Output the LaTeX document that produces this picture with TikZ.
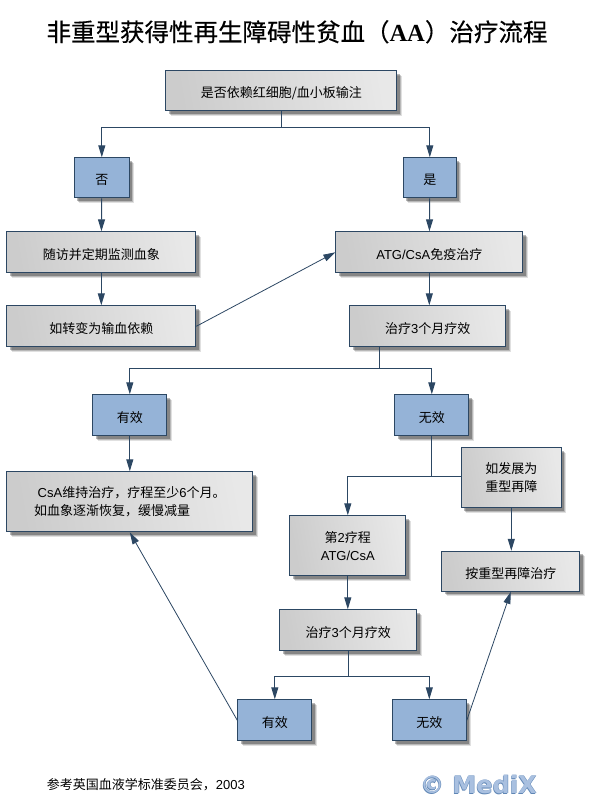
\documentclass[tikz,border=0pt]{standalone}
\usepackage{fontspec}
\setmainfont{Noto Sans CJK SC}
\newfontfamily\latn{Liberation Sans}
\newfontfamily\titlelatn{Liberation Serif}
\newfontfamily\titlecjk[FakeBold=0.4]{Noto Sans CJK SC}
\newfontfamily\logofont{DejaVu Sans}
\usetikzlibrary{arrows.meta,shadows}
\definecolor{linecol}{HTML}{2C4763}
\definecolor{bluefill}{HTML}{95B3D7}
\definecolor{logocol}{HTML}{A9C0E0}
\definecolor{logoedge}{HTML}{5F86B5}
\tikzset{
  softshadow/.style={
    preaction={fill=black,opacity=.12,transform canvas={xshift=5pt,yshift=-5pt}},
    preaction={fill=black,opacity=.18,transform canvas={xshift=4pt,yshift=-4pt}},
    preaction={fill=black,opacity=.28,transform canvas={xshift=3pt,yshift=-3pt}}},
  boxtext/.style={align=center,inner sep=0pt,font=\fontsize{13}{18}\selectfont,
    execute at begin node={\rule{0pt}{15pt}}},
  greybox/.style={draw=linecol,line width=1pt,softshadow,left color=gray!40,right color=gray!18,
    shading angle=100,boxtext},
  bluebox/.style={draw=linecol,line width=1pt,softshadow,fill=bluefill,boxtext},
  flow/.style={draw=linecol,line width=1pt,-{Triangle[length=12pt,width=7pt]}},
  plain/.style={draw=linecol,line width=1pt},
  thinflow/.style={draw=linecol,line width=.8pt,-{Triangle[length=12pt,width=7pt]}},
  logotext/.style={anchor=west,font=\logofont\bfseries\fontsize{24}{26}\selectfont}
}
\begin{document}
\begin{tikzpicture}[x=1pt,y=-1pt]
  \useasboundingbox (0.2,0.2) rectangle (594.2,805.2);
  % title
  \node[font=\fontsize{24.5}{28}\selectfont\titlecjk] (title) at (297.2,32) {非重型获得性再生障碍性贫血（{\titlelatn\bfseries AA}）治疗流程};
  % upper part
  \node[greybox,minimum width=231,minimum height=40] (transf) at (281.5,91) {是否依赖红细胞/血小板输注};
  \node[bluebox,minimum width=55,minimum height=40] (no) at (102,178) {否};
  \node[bluebox,minimum width=53,minimum height=40] (yes) at (430,178) {是};
  \node[greybox,minimum width=189,minimum height=41] (follow) at (101.5,252.5) {随访并定期监测血象};
  \node[greybox,minimum width=187,minimum height=41] (atg) at (429.5,252.5) {{\latn ATG/CsA}免疫治疗};
  \node[greybox,minimum width=189,minimum height=41] (turn) at (101.5,326.5) {如转变为输血依赖};
  \node[greybox,minimum width=156,minimum height=41] (eff) at (428,326.5) {治疗{\latn 3}个月疗效};
  % middle part
  \node[bluebox,minimum width=74,minimum height=41] (good) at (130,415.5) {有效};
  \node[bluebox,minimum width=74,minimum height=41] (bad) at (432,415.5) {无效};
  \node[greybox,minimum width=246,minimum height=60,align=left] (csa) at (130,502) {{\latn\ CsA}维持治疗，疗程至少{\latn 6}个月。\\如血象逐渐恢复，缓慢减量};
  \node[greybox,minimum width=100,minimum height=60] (dev) at (511.5,478) {如发展为\\重型再障};
  \node[greybox,minimum width=116,minimum height=60] (second) at (348,546) {第{\latn 2}疗程\\{\latn ATG/CsA}};
  \node[greybox,minimum width=138,minimum height=40] (severe) at (511,571.5) {按重型再障治疗};
  % lower part
  \node[greybox,minimum width=137,minimum height=41] (effb) at (348.5,630.5) {治疗{\latn 3}个月疗效};
  \node[bluebox,minimum width=74,minimum height=41] (goodb) at (275,720.5) {有效};
  \node[bluebox,minimum width=74,minimum height=41] (badb) at (429.5,720.5) {无效};
  % footer and logo
  \node[anchor=west,font=\fontsize{13}{15}\selectfont] (source) at (43.5,785) {参考英国血液学标准委员会，{\latn 2003}};
  \node[logotext,text=logoedge] (logoback) at (416.3,785.3) {© MediX};
  \node[logotext,text=logoedge] (logobackb) at (417.3,784.3) {© MediX};
  \node[logotext,text=logocol] (logo) at (416.8,784.8) {© MediX};
  % branch points
  \coordinate (splita) at (281.5,128);
  \coordinate (splitb) at (380,369);
  \coordinate (splitc) at (432,477);
  \coordinate (splitd) at (348.5,677);
  % connectors
  \draw[plain] (transf.south) -- (splita);
  \draw[flow] (splita) -| (no.north);
  \draw[flow] (splita) -| (yes.north);
  \draw[flow] (no) -- (follow);
  \draw[flow] (yes) -- (atg);
  \draw[flow] (follow) -- (turn);
  \draw[thinflow] (turn.east) -- (atg.west);
  \draw[flow] (atg.south) -- (eff.north -| atg.south);
  \draw[plain] (eff.south -| splitb) -- (splitb);
  \draw[flow] (splitb) -| (good.north);
  \draw[flow] (splitb) -| (bad.north);
  \draw[flow] (good) -- (csa.north -| good);
  \draw[plain] (bad.south) -- (splitc);
  \draw[plain] (splitc) -- (splitc -| dev.west);
  \draw[flow] (splitc) -| (second.north);
  \draw[flow] (dev.south) -- (severe.north -| dev.south);
  \draw[flow] (second) -- (effb.north -| second);
  \draw[plain] (effb.south) -- (splitd);
  \draw[flow] (splitd) -| (goodb.north);
  \draw[flow] (splitd) -| (badb.north);
  \draw[thinflow] (goodb.west) -- (csa.south);
  \draw[thinflow] (badb.east) -- (severe.south);
\end{tikzpicture}
\end{document}
